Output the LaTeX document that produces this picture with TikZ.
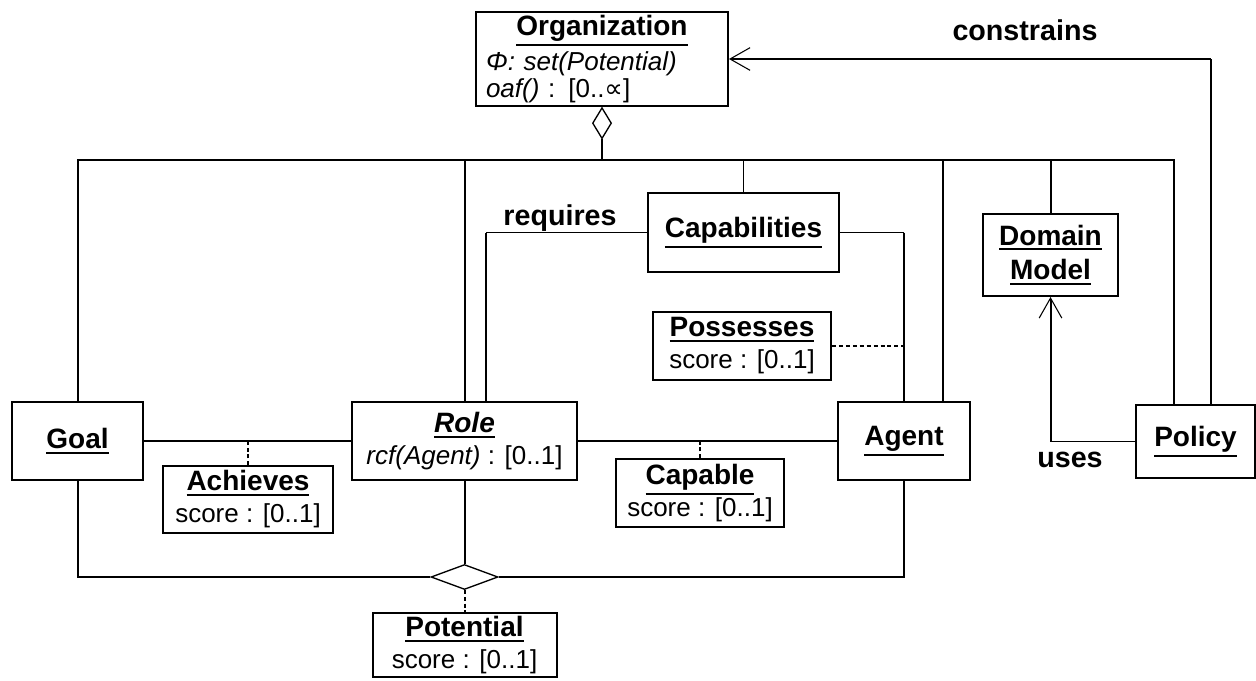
\documentclass[tikz,border=0pt]{standalone}
\usepackage{fontspec}
\setmainfont{Liberation Sans}
\newfontfamily\symfont{DejaVu Sans}
\usetikzlibrary{arrows.meta,shapes.geometric,calc}

% bold, underlined class name with a heavy rule
\newbox\ttlbox
\newcommand{\ttl}[1]{\setbox\ttlbox\hbox{\fontsize{21}{22.5}\selectfont\bfseries #1}%
  \vtop{\copy\ttlbox\kern2.2pt\hrule height 1.6pt width \wd\ttlbox}}
\newcommand{\attrfont}{\fontsize{19.5}{22.5}\selectfont}

\begin{document}
\begin{tikzpicture}[x=0.75pt,y=-0.75pt,
  umlbox/.style={draw, line width=1.5pt, fill=white, align=center, inner sep=0pt, font=\attrfont},
  dims/.style 2 args={minimum width=#1*0.75pt, minimum height=#2*0.75pt},
  aggr/.style={diamond, draw, fill=white, line width=1pt, inner sep=0pt},
  bus/.style={line width=1.5pt},
  assoc/.style={line width=0.8pt},
  qual/.style={line width=1.5pt, dash pattern=on 3pt off 2pt},
  note/.style={line width=0.8pt, dash pattern=on 3pt off 2.2pt},
  navi/.style={-{Straight Barb[length=15pt,width=17pt,line width=0.8pt]}},
  lbl/.style={inner sep=0pt, font=\fontsize{21.5}{22.5}\selectfont\bfseries}]
\useasboundingbox (0,0) rectangle (1256,681);

% classes
\node[umlbox,dims={252}{94},text width=174pt,align=left,inner xsep=7.5pt,
      font=\fontsize{19.5}{20.25}\selectfont] (org) at (602,59)
  {\makebox[\linewidth]{\ttl{Organization}}\\[3pt]
   \textit{Φ: set(Potential)}\\
   \textit{oaf()} : [0..{\symfont ∝}]};
\node[umlbox,dims={131}{78}] (goal) at (77.5,441) {\ttl{Goal}};
\node[umlbox,dims={225}{78}] (role) at (464.5,441) {\ttl{\itshape Role}\\[1.5pt] \textit{rcf(Agent)} : [0..1]};
\node[umlbox,dims={132}{78}] (agent) at (904,441) {\ttl{Agent}};
\node[umlbox,dims={119}{73}] (policy) at (1195.5,441.5) {\ttl{Policy}};
\node[umlbox,dims={191}{79}] (cap) at (743.5,232.5) {\ttl{Capabilities}};
\node[umlbox,dims={135}{82}] (dom) at (1050.5,255) {\ttl{Domain}\\[3.5pt]\ttl{Model}};

% association classes
\node[umlbox,dims={178}{68}] (poss) at (742,346) {\ttl{Possesses}\\[1.5pt] score : [0..1]};
\node[umlbox,dims={170}{67}] (ach) at (248,499.5) {\ttl{Achieves}\\[1.5pt] score : [0..1]};
\node[umlbox,dims={168}{68}] (capable) at (700,493) {\ttl{Capable}\\[1.5pt] score : [0..1]};
\node[umlbox,dims={184}{64}] (pot) at (464.5,645) {\ttl{Potential}\\[1.5pt] score : [0..1]};

% aggregation diamonds
\node[aggr,dims={19}{31},anchor=north] (orgdia) at (org.south) {};
\node[aggr,dims={67}{25}] (potdia) at (464.5,577) {};

% helper points
\coordinate (busy) at (0,160);
\coordinate (pl) at ($(policy.north)+(-21.5,0)$);
\coordinate (pr) at ($(policy.north)+(15.5,0)$);
\coordinate (ar) at ($(agent.north)+(39,0)$);
\coordinate (rq) at ($(role.north)+(21,0)$);
\coordinate (rqc) at (rq |- cap.west);
\coordinate (cac) at (agent.north |- cap.east);
\coordinate (ct) at (pr |- org.east);
\coordinate (uc) at (dom.south |- policy.west);

% organization aggregate bus
\draw[bus] (goal.north) -- (goal.north |- busy) -- (pl |- busy) -- (pl);
\draw[bus] (orgdia.south) -- (orgdia.south |- busy);
\draw[bus] (role.north) -- (role.north |- busy);
\draw[assoc] (cap.north) -- (cap.north |- busy);
\draw[assoc] (ar) -- (ar |- busy);
\draw[bus] (dom.north) -- (dom.north |- busy);

% constrains
\draw[bus] (pr) -- (ct);
\draw[assoc,navi] (ct) -- (org.east);

% requires / possesses
\draw[assoc] (cap.west) -- (rqc);
\draw[bus] (rqc) -- (rq);
\draw[assoc] (cap.east) -- (cac);
\draw[bus] (cac) -- (agent.north);
\draw[note] (poss.east) -- (poss.east -| agent.north);

% achieves / capable
\draw[assoc] (goal.east) -- (role.west);
\draw[qual] (ach.north) -- (ach.north |- goal.east);
\draw[assoc] (role.east) -- (agent.west);
\draw[qual] (capable.north) -- (capable.north |- role.east);

% potential
\draw[bus] (goal.south) |- (potdia.west);
\draw[bus] (agent.south) |- (potdia.east);
\draw[bus] (role.south) -- (potdia.north);
\draw[qual] (potdia.south) -- (pot.north);

% uses
\draw[assoc] (policy.west) -- (uc);
\draw[bus,navi] (uc) -- (dom.south);

% labels
\node[lbl,anchor=base] (lconstrains) at (1025,41) {constrains};
\node[lbl,anchor=base] (lrequires) at (560,225) {requires};
\node[lbl,anchor=base] (luses) at (1070,467) {uses};
\end{tikzpicture}
\end{document}
